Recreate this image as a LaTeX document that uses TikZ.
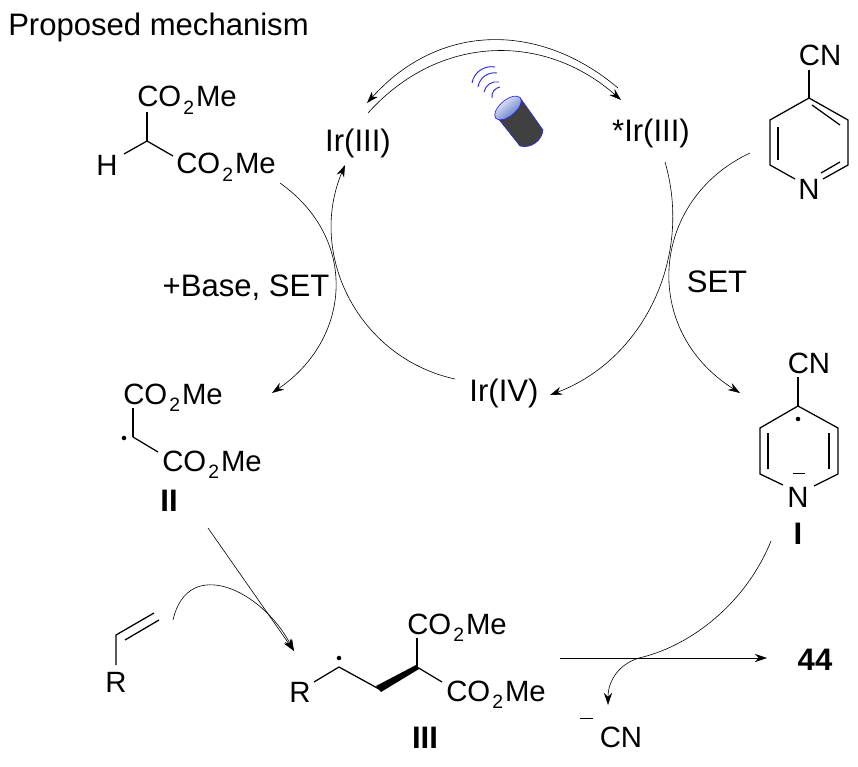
\documentclass[tikz,border=0pt]{standalone}
\usepackage{fontspec}
\setmainfont{Liberation Sans}
\usepackage{xcolor}
\usetikzlibrary{arrows.meta,calc}
\definecolor{lampblue}{RGB}{40,40,230}
\definecolor{lampbody}{RGB}{64,64,64}
\definecolor{lamplens}{RGB}{70,100,190}
\newcommand{\esterlabel}{CO\kern1.5pt\raisebox{-5.5pt}{\fontsize{14.5}{16}\selectfont 2}\kern1.5ptMe}
\tikzset{
  chemtext/.style={inner sep=0pt, font=\fontsize{22}{26}\selectfont},
  ester/.style={chemtext, anchor=base west},
  labeltext/.style={inner sep=0pt, font=\fontsize{23.3}{27}\selectfont},
  chembold/.style={inner sep=0pt, font=\fontsize{23.3}{27}\selectfont\bfseries},
  bond/.style={line width=0.95pt},
  cyclearrow/.style={-{Stealth[length=9pt,width=6pt]}, line width=0.45pt},
  plainarc/.style={line width=0.45pt},
  wave/.style={draw=lampblue, line width=0.7pt},
  radicaldot/.style={circle, fill=black, inner sep=0pt, minimum size=3.4pt}
}
\begin{document}
\begin{tikzpicture}[x=0.75pt,y=-0.75pt]
\useasboundingbox (0,0) rectangle (858,767);
% labels
\node[labeltext,anchor=west] (title) at (8,27) {Proposed mechanism};
\node[labeltext] (irleft) at (358,143) {Ir(III)};
\node[labeltext] (irright) at (651,133) {*Ir(III)};
\node[labeltext] (irfour) at (504,393) {Ir(IV)};
\node[labeltext] (baseset) at (246,288) {+Base, SET};
\node[labeltext] (set) at (717,282) {SET};
% malonate
\node[ester] (malup) at (137,107) {\esterlabel};
\node[ester] (mallow) at (176,174) {\esterlabel};
\node[chemtext] (malh) at (107,165) {H};
\coordinate (malc) at (147,141);
\draw[bond] (malc) -- (147,112);
\draw[bond] (malc) -- (124,154);
\draw[bond] (malc) -- (173,156);
% radical II
\node[ester] (radup) at (123,404) {\esterlabel};
\node[ester] (radlow) at (162,471) {\esterlabel};
\node[chembold] (labelii) at (169,501) {II};
\node[radicaldot] (raddot) at (124,438) {};
\coordinate (radc) at (133,437);
\draw[bond] (radc) -- (133,408);
\draw[bond] (radc) -- (158,452);
% cyanopyridine
\node[chemtext] (pycn) at (820,55) {CN};
\node[chemtext] (pyn) at (809,189) {N};
\coordinate (pya) at (809,98);
\coordinate (pyb) at (770,120);
\coordinate (pyc) at (770,165);
\coordinate (pyd) at (848,120);
\coordinate (pye) at (848,165);
\draw[bond] (809,70) -- (pya);
\draw[bond] (795,179) -- (pyc) -- (pyb) -- (pya) -- (pyd) -- (pye) -- (823,179);
\draw[bond] (778,127) -- (778,160);
\draw[bond] (812,105) -- (840,125);
\draw[bond] (821,173) -- (840,162);
% radical anion I
\node[chemtext] (ancn) at (809,363) {CN};
\node[chemtext] (ann) at (798,497) {N};
\node[chembold] (labeli) at (798,534) {I};
\node[radicaldot] (andot) at (798,419) {};
\coordinate (ana) at (798,406);
\coordinate (anb) at (760,428);
\coordinate (anc) at (760,474);
\coordinate (and) at (838,428);
\coordinate (ane) at (838,474);
\draw[bond] (798,377) -- (ana);
\draw[bond] (783,485) -- (anc) -- (anb) -- (ana) -- (and) -- (ane) -- (814,486);
\draw[bond] (768,433) -- (768,469);
\draw[bond] (829,433) -- (829,469);
\draw[plainarc] (793,473) -- (805,473);
% alkene
\node[chemtext] (alkr) at (116,682) {R};
\coordinate (alka) at (116,635);
\coordinate (alkb) at (154,613);
\draw[bond] (116,665) -- (alka) -- (alkb);
\draw[bond] (125,640) -- (159,620);
% adduct III
\node[chemtext] (addr) at (300,692) {R};
\node[ester] (addup) at (407,634) {\esterlabel};
\node[ester] (addlow) at (446,701) {\esterlabel};
\node[chembold] (labeliii) at (425,738) {III};
\node[radicaldot] (adddot) at (339,658) {};
\coordinate (adda) at (339,667);
\coordinate (addb) at (379,689);
\coordinate (addc) at (417,667);
\draw[bond] (314,682) -- (adda) -- (addb);
\fill (376,686) -- (381,692) -- (419,669) -- (416,665) -- cycle;
\draw[bond] (addc) -- (417,638);
\draw[bond] (addc) -- (442,682);
% product and cyanide
\node[chembold] (prod) at (815,660) {44};
\node[chemtext] (cyanide) at (621,737) {CN};
\draw[plainarc] (580,718) -- (593,718);
% lamp
\draw[lampblue, fill=lampbody, line width=0.45pt] (497,117) -- (520,146) to[bend right=50] (543,130) -- (521,99) -- cycle;
\shade[left color=white, right color=lamplens, shading angle=40, draw=lampblue, line width=0.5pt] (508,108) ellipse [x radius=16, y radius=8, rotate=40];
\draw[wave] (472,83) to[bend left=45] (495,67);
\draw[wave] (478,87) to[bend left=45] (497,73);
\draw[wave] (484,92) to[bend left=45] (499,82);
\draw[wave] (492,98) to[bend left=45] (500,87);
% top arrows
\coordinate (topa) at (618,88);
\coordinate (topb) at (367,103);
\coordinate (topc) at (368,113);
\coordinate (topd) at (621,100);
\draw[cyclearrow] (topa) .. controls (540,22) and (440,22) .. (topb);
\draw[cyclearrow] (topc) .. controls (440,33) and (545,33) .. (topd);
% main cycle
\coordinate (leftstart) at (455,379);
\coordinate (leftend) at (345,165);
\coordinate (rightstart) at (665,162);
\coordinate (rightend) at (550,395);
\draw[cyclearrow] (leftstart) .. controls (359,358) and (307,255) .. (leftend);
\draw[cyclearrow] (rightstart) .. controls (693,258) and (643,360) .. (rightend);
% crossing arrows
\coordinate (crossla) at (280,183);
\coordinate (crosslb) at (272,393);
\coordinate (crossra) at (750,153);
\coordinate (crossrb) at (740,393);
\draw[cyclearrow] (crossla) .. controls (360,240) and (350,340) .. (crosslb);
\draw[cyclearrow] (crossra) .. controls (650,200) and (640,330) .. (crossrb);
% bottom arrows
\coordinate (iisrc) at (208,528);
\coordinate (iiitip) at (294,651);
\coordinate (alksrc) at (173,620);
\coordinate (linesrc) at (560,658);
\coordinate (linetip) at (767,658);
\coordinate (isrc) at (771,541);
\coordinate (cntip) at (608,705);
\draw[cyclearrow] (iisrc) -- (iiitip);
\draw[cyclearrow] (alksrc) .. controls (188,555) and (262,590) .. (iiitip);
\draw[cyclearrow] (linesrc) -- (linetip);
\draw[cyclearrow] (isrc) .. controls (745,605) and (690,645) .. (643,657) .. controls (620,662) and (608,680) .. (cntip);
\end{tikzpicture}
\end{document}
